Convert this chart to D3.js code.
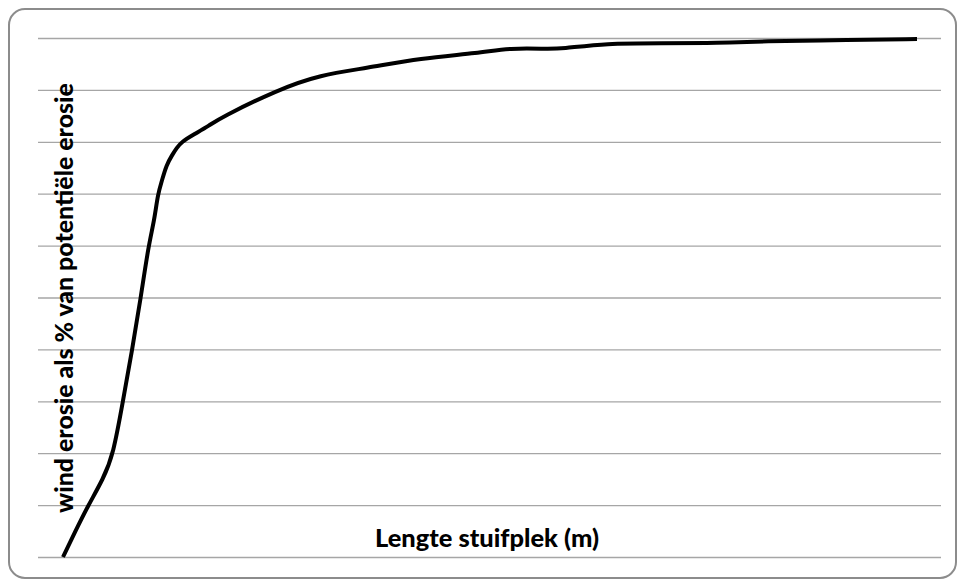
<!DOCTYPE html>
<html>
<head>
<meta charset="utf-8">
<script src="https://cdn.jsdelivr.net/npm/d3@7"></script>
<style>
  html, body { margin: 0; padding: 0; background: #fff; }
  svg { display: block; }
</style>
</head>
<body>
<svg id="chart" width="958" height="581"></svg>
<script>
// Data (length in relative units, erosion as % of potential)
const lengths = [0, 1.4, 2.9, 4.7, 5.9, 7.0, 8.1, 9.1, 10.0, 10.7, 11.1, 11.6, 12.1, 12.8, 13.3, 13.9, 15.2, 17.2, 18.4, 25.1, 30.1, 35.6, 41.8, 48.8, 52.3, 56.7, 58.2, 63.7, 69.9, 76.9, 81.6, 92.2, 100];
const erosion = [0, 4.8, 9.8, 15.0, 19.8, 29.9, 39.9, 49.9, 59.9, 64.9, 69.9, 72.6, 75.5, 77.5, 78.8, 80.0, 81.3, 83.2, 84.6, 90.0, 92.9, 94.2, 96.1, 97.1, 98.1, 97.9, 97.9, 99.0, 99.0, 99.0, 99.4, 99.6, 99.8];
const yTicks = [0, 10, 20, 30, 40, 50, 60, 70, 80, 90, 100];
const xTitle = "Lengte stuifplek (m)";
const yTitle = "wind erosie als % van potentiële erosie";

const svg = d3.select("#chart");

// outer rounded frame
svg.append("rect")
  .attr("x", 9).attr("y", 9).attr("width", 947).attr("height", 569)
  .attr("rx", 16).attr("ry", 16)
  .attr("fill", "#fff").attr("stroke", "#8c8c8c").attr("stroke-width", 2);

const plot = { left: 38, right: 941, top: 38, bottom: 557 };
const x = d3.scaleLinear().domain([0, 100]).range([63, 917]);
const y = d3.scaleLinear().domain([0, 100]).range([plot.bottom, plot.top]);

// gridlines via axis
const yAxis = d3.axisLeft(y).tickValues(yTicks)
  .tickSize(-(plot.right - plot.left)).tickFormat("");
const g = svg.append("g").attr("transform", `translate(${plot.left},0)`).call(yAxis);
g.select(".domain").remove();
g.selectAll(".tick line").attr("stroke", "#a6a6a6").attr("stroke-width", 1.3);

// titles
const font = "Lato, 'Open Sans', 'Liberation Sans', sans-serif";
const yT = svg.append("text")
  .attr("transform", "translate(73,298) rotate(-90)")
  .attr("text-anchor", "middle")
  .attr("font-family", font)
  .attr("font-weight", 900).attr("font-size", 18).attr("fill", "#000")
  .text(yTitle);
const xT = svg.append("text")
  .attr("x", 487).attr("y", 547)
  .attr("text-anchor", "middle")
  .attr("font-family", font)
  .attr("font-weight", 900).attr("font-size", 18).attr("fill", "#000")
  .text(xTitle);
function fit(t, w) {
  const len = t.node().getComputedTextLength();
  t.attr("font-size", 18 * w / len);
}
fit(yT, 430);
fit(xT, 224);

// line
const data = lengths.map((d, i) => ({ x: d, y: erosion[i] }));
const line = d3.line().x(d => x(d.x)).y(d => y(d.y)).curve(d3.curveBasis);
svg.append("path").datum(data)
  .attr("d", line)
  .attr("fill", "none").attr("stroke", "#000").attr("stroke-width", 4)
  .attr("stroke-linejoin", "round").attr("stroke-linecap", "butt");
</script>
</body>
</html>
